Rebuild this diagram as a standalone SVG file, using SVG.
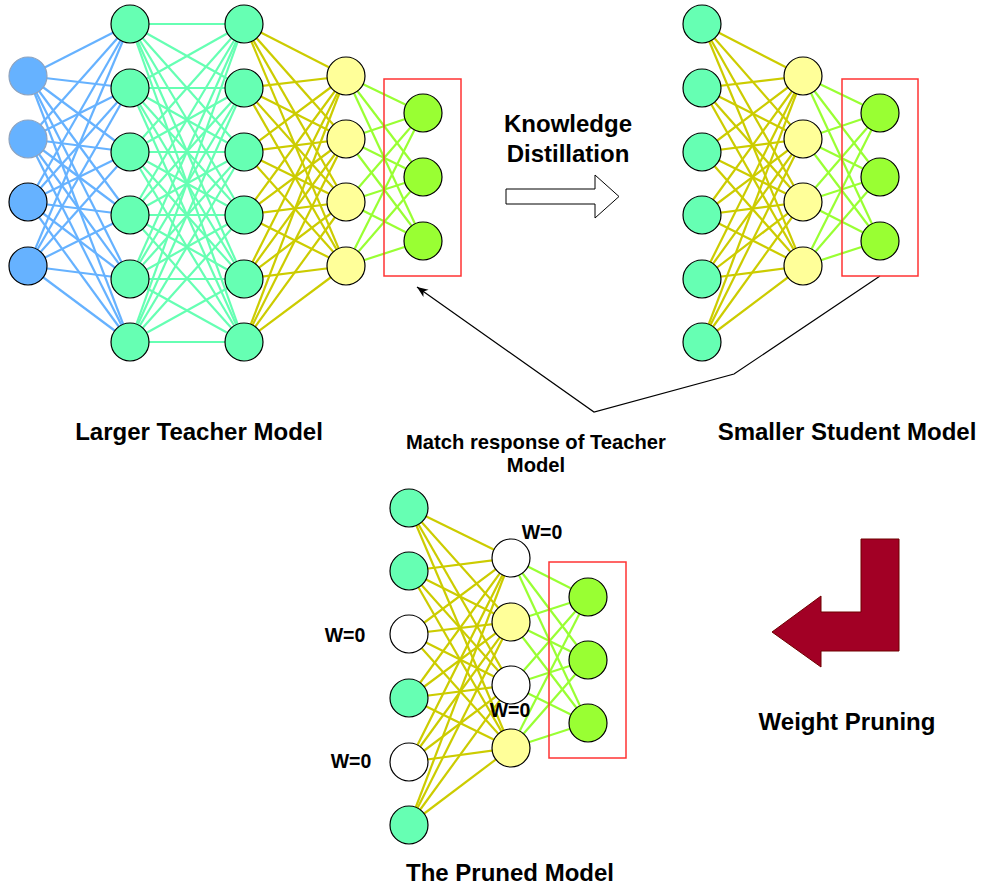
<svg xmlns="http://www.w3.org/2000/svg" width="982" height="891" viewBox="0 0 982 891">
<style>
.e1{stroke:#66B2FF;stroke-width:2.2;fill:none}
.e2{stroke:#66FFB3;stroke-width:2.2;fill:none}
.e3{stroke:#CCCC00;stroke-width:2.2;fill:none}
.e4{stroke:#99FF33;stroke-width:2.2;fill:none}
circle{stroke:#000;stroke-width:1.2}
.blue{fill:#66B2FF}
.blueg{fill:#66B2FF;stroke:#8FA3BE}
.green{fill:#66FFB3}
.yellow{fill:#FFFF99}
.lime{fill:#99FF33}
.white{fill:#FFFFFF}
.box{fill:none;stroke:#FF3333;stroke-width:1.5}
text{font-family:"Liberation Sans",Arial,sans-serif;font-weight:bold;fill:#000;text-anchor:middle}
.big{font-size:24px}
.small{font-size:19.5px}
.match{font-size:20.2px}
</style>
<defs>
<marker id="ah" markerWidth="12" markerHeight="12" refX="11" refY="6" orient="auto" markerUnits="userSpaceOnUse">
<path d="M0,1.5 L11,6 L0,10.5 L3,6 Z" fill="#000"/>
</marker>
</defs>
<g id="connectors">
<g id="teacher-blue">
<path class="e1" d="M28 76L130 24"/><path class="e1" d="M28 76L130 88"/><path class="e1" d="M28 76L130 152"/><path class="e1" d="M28 76L130 215"/><path class="e1" d="M28 76L130 279"/><path class="e1" d="M28 76L130 342"/>
<path class="e1" d="M28 139L130 24"/><path class="e1" d="M28 139L130 88"/><path class="e1" d="M28 139L130 152"/><path class="e1" d="M28 139L130 215"/><path class="e1" d="M28 139L130 279"/><path class="e1" d="M28 139L130 342"/>
<path class="e1" d="M28 202L130 24"/><path class="e1" d="M28 202L130 88"/><path class="e1" d="M28 202L130 152"/><path class="e1" d="M28 202L130 215"/><path class="e1" d="M28 202L130 279"/><path class="e1" d="M28 202L130 342"/>
<path class="e1" d="M28 266L130 24"/><path class="e1" d="M28 266L130 88"/><path class="e1" d="M28 266L130 152"/><path class="e1" d="M28 266L130 215"/><path class="e1" d="M28 266L130 279"/><path class="e1" d="M28 266L130 342"/>
</g>
<g id="teacher-green">
<path class="e2" d="M130 24L244 24"/><path class="e2" d="M130 24L244 88"/><path class="e2" d="M130 24L244 152"/><path class="e2" d="M130 24L244 215"/><path class="e2" d="M130 24L244 279"/><path class="e2" d="M130 24L244 342"/>
<path class="e2" d="M130 88L244 24"/><path class="e2" d="M130 88L244 88"/><path class="e2" d="M130 88L244 152"/><path class="e2" d="M130 88L244 215"/><path class="e2" d="M130 88L244 279"/><path class="e2" d="M130 88L244 342"/>
<path class="e2" d="M130 152L244 24"/><path class="e2" d="M130 152L244 88"/><path class="e2" d="M130 152L244 152"/><path class="e2" d="M130 152L244 215"/><path class="e2" d="M130 152L244 279"/><path class="e2" d="M130 152L244 342"/>
<path class="e2" d="M130 215L244 24"/><path class="e2" d="M130 215L244 88"/><path class="e2" d="M130 215L244 152"/><path class="e2" d="M130 215L244 215"/><path class="e2" d="M130 215L244 279"/><path class="e2" d="M130 215L244 342"/>
<path class="e2" d="M130 279L244 24"/><path class="e2" d="M130 279L244 88"/><path class="e2" d="M130 279L244 152"/><path class="e2" d="M130 279L244 215"/><path class="e2" d="M130 279L244 279"/><path class="e2" d="M130 279L244 342"/>
<path class="e2" d="M130 342L244 24"/><path class="e2" d="M130 342L244 88"/><path class="e2" d="M130 342L244 152"/><path class="e2" d="M130 342L244 215"/><path class="e2" d="M130 342L244 279"/><path class="e2" d="M130 342L244 342"/>
</g>
<g id="teacher-yellow">
<path class="e3" d="M244 24L346 76"/><path class="e3" d="M244 24L346 139"/><path class="e3" d="M244 24L346 202"/><path class="e3" d="M244 24L346 266"/>
<path class="e3" d="M244 88L346 76"/><path class="e3" d="M244 88L346 139"/><path class="e3" d="M244 88L346 202"/><path class="e3" d="M244 88L346 266"/>
<path class="e3" d="M244 152L346 76"/><path class="e3" d="M244 152L346 139"/><path class="e3" d="M244 152L346 202"/><path class="e3" d="M244 152L346 266"/>
<path class="e3" d="M244 215L346 76"/><path class="e3" d="M244 215L346 139"/><path class="e3" d="M244 215L346 202"/><path class="e3" d="M244 215L346 266"/>
<path class="e3" d="M244 279L346 76"/><path class="e3" d="M244 279L346 139"/><path class="e3" d="M244 279L346 202"/><path class="e3" d="M244 279L346 266"/>
<path class="e3" d="M244 342L346 76"/><path class="e3" d="M244 342L346 139"/><path class="e3" d="M244 342L346 202"/><path class="e3" d="M244 342L346 266"/>
</g>
<g id="teacher-lime">
<path class="e4" d="M346 76L423 113"/><path class="e4" d="M346 76L423 177"/><path class="e4" d="M346 76L423 241"/>
<path class="e4" d="M346 139L423 113"/><path class="e4" d="M346 139L423 177"/><path class="e4" d="M346 139L423 241"/>
<path class="e4" d="M346 202L423 113"/><path class="e4" d="M346 202L423 177"/><path class="e4" d="M346 202L423 241"/>
<path class="e4" d="M346 266L423 113"/><path class="e4" d="M346 266L423 177"/><path class="e4" d="M346 266L423 241"/>
</g>
<g id="student-yellow">
<path class="e3" d="M702 24L803 76"/><path class="e3" d="M702 24L803 139"/><path class="e3" d="M702 24L803 202"/><path class="e3" d="M702 24L803 266"/>
<path class="e3" d="M702 88L803 76"/><path class="e3" d="M702 88L803 139"/><path class="e3" d="M702 88L803 202"/><path class="e3" d="M702 88L803 266"/>
<path class="e3" d="M702 152L803 76"/><path class="e3" d="M702 152L803 139"/><path class="e3" d="M702 152L803 202"/><path class="e3" d="M702 152L803 266"/>
<path class="e3" d="M702 215L803 76"/><path class="e3" d="M702 215L803 139"/><path class="e3" d="M702 215L803 202"/><path class="e3" d="M702 215L803 266"/>
<path class="e3" d="M702 279L803 76"/><path class="e3" d="M702 279L803 139"/><path class="e3" d="M702 279L803 202"/><path class="e3" d="M702 279L803 266"/>
<path class="e3" d="M702 342L803 76"/><path class="e3" d="M702 342L803 139"/><path class="e3" d="M702 342L803 202"/><path class="e3" d="M702 342L803 266"/>
</g>
<g id="student-lime">
<path class="e4" d="M803 76L880 113"/><path class="e4" d="M803 76L880 177"/><path class="e4" d="M803 76L880 241"/>
<path class="e4" d="M803 139L880 113"/><path class="e4" d="M803 139L880 177"/><path class="e4" d="M803 139L880 241"/>
<path class="e4" d="M803 202L880 113"/><path class="e4" d="M803 202L880 177"/><path class="e4" d="M803 202L880 241"/>
<path class="e4" d="M803 266L880 113"/><path class="e4" d="M803 266L880 177"/><path class="e4" d="M803 266L880 241"/>
</g>
<g id="pruned-yellow">
<path class="e3" d="M409 508L511 558"/><path class="e3" d="M409 508L511 622"/><path class="e3" d="M409 508L511 685"/><path class="e3" d="M409 508L511 748"/>
<path class="e3" d="M409 571L511 558"/><path class="e3" d="M409 571L511 622"/><path class="e3" d="M409 571L511 685"/><path class="e3" d="M409 571L511 748"/>
<path class="e3" d="M409 634L511 558"/><path class="e3" d="M409 634L511 622"/><path class="e3" d="M409 634L511 685"/><path class="e3" d="M409 634L511 748"/>
<path class="e3" d="M409 698L511 558"/><path class="e3" d="M409 698L511 622"/><path class="e3" d="M409 698L511 685"/><path class="e3" d="M409 698L511 748"/>
<path class="e3" d="M409 762L511 558"/><path class="e3" d="M409 762L511 622"/><path class="e3" d="M409 762L511 685"/><path class="e3" d="M409 762L511 748"/>
<path class="e3" d="M409 825L511 558"/><path class="e3" d="M409 825L511 622"/><path class="e3" d="M409 825L511 685"/><path class="e3" d="M409 825L511 748"/>
</g>
<g id="pruned-lime">
<path class="e4" d="M511 558L588 597"/><path class="e4" d="M511 558L588 660"/><path class="e4" d="M511 558L588 723"/>
<path class="e4" d="M511 622L588 597"/><path class="e4" d="M511 622L588 660"/><path class="e4" d="M511 622L588 723"/>
<path class="e4" d="M511 685L588 597"/><path class="e4" d="M511 685L588 660"/><path class="e4" d="M511 685L588 723"/>
<path class="e4" d="M511 748L588 597"/><path class="e4" d="M511 748L588 660"/><path class="e4" d="M511 748L588 723"/>
</g>
<polyline id="match-connector" points="880,276 734,374 594,412 417,287" fill="none" stroke="#000" stroke-width="1.2" marker-end="url(#ah)"/>
</g>

<g id="teacher-output-box"><rect class="box" x="384" y="79" width="77" height="197"/></g>
<g id="student-output-box"><rect class="box" x="842" y="79" width="76" height="197"/></g>
<g id="pruned-output-box"><rect class="box" x="549" y="562" width="77" height="196"/></g>

<g id="t-in-1"><circle class="blueg" cx="28" cy="76" r="19"/></g>
<g id="t-in-2"><circle class="blueg" cx="28" cy="139" r="19"/></g>
<g id="t-in-3"><circle class="blue" cx="28" cy="202" r="19"/></g>
<g id="t-in-4"><circle class="blue" cx="28" cy="266" r="19"/></g>
<g id="t-h1-1"><circle class="green" cx="130" cy="24" r="19"/></g>
<g id="t-h1-2"><circle class="green" cx="130" cy="88" r="19"/></g>
<g id="t-h1-3"><circle class="green" cx="130" cy="152" r="19"/></g>
<g id="t-h1-4"><circle class="green" cx="130" cy="215" r="19"/></g>
<g id="t-h1-5"><circle class="green" cx="130" cy="279" r="19"/></g>
<g id="t-h1-6"><circle class="green" cx="130" cy="342" r="19"/></g>
<g id="t-h2-1"><circle class="green" cx="244" cy="24" r="19"/></g>
<g id="t-h2-2"><circle class="green" cx="244" cy="88" r="19"/></g>
<g id="t-h2-3"><circle class="green" cx="244" cy="152" r="19"/></g>
<g id="t-h2-4"><circle class="green" cx="244" cy="215" r="19"/></g>
<g id="t-h2-5"><circle class="green" cx="244" cy="279" r="19"/></g>
<g id="t-h2-6"><circle class="green" cx="244" cy="342" r="19"/></g>
<g id="t-h3-1"><circle class="yellow" cx="346" cy="76" r="19"/></g>
<g id="t-h3-2"><circle class="yellow" cx="346" cy="139" r="19"/></g>
<g id="t-h3-3"><circle class="yellow" cx="346" cy="202" r="19"/></g>
<g id="t-h3-4"><circle class="yellow" cx="346" cy="266" r="19"/></g>
<g id="t-out-1"><circle class="lime" cx="423" cy="113" r="19"/></g>
<g id="t-out-2"><circle class="lime" cx="423" cy="177" r="19"/></g>
<g id="t-out-3"><circle class="lime" cx="423" cy="241" r="19"/></g>

<g id="s-h1-1"><circle class="green" cx="702" cy="24" r="19"/></g>
<g id="s-h1-2"><circle class="green" cx="702" cy="88" r="19"/></g>
<g id="s-h1-3"><circle class="green" cx="702" cy="152" r="19"/></g>
<g id="s-h1-4"><circle class="green" cx="702" cy="215" r="19"/></g>
<g id="s-h1-5"><circle class="green" cx="702" cy="279" r="19"/></g>
<g id="s-h1-6"><circle class="green" cx="702" cy="342" r="19"/></g>
<g id="s-h2-1"><circle class="yellow" cx="803" cy="76" r="19"/></g>
<g id="s-h2-2"><circle class="yellow" cx="803" cy="139" r="19"/></g>
<g id="s-h2-3"><circle class="yellow" cx="803" cy="202" r="19"/></g>
<g id="s-h2-4"><circle class="yellow" cx="803" cy="266" r="19"/></g>
<g id="s-out-1"><circle class="lime" cx="880" cy="113" r="19"/></g>
<g id="s-out-2"><circle class="lime" cx="880" cy="177" r="19"/></g>
<g id="s-out-3"><circle class="lime" cx="880" cy="241" r="19"/></g>

<g id="p-h1-1"><circle class="green" cx="409" cy="508" r="19"/></g>
<g id="p-h1-2"><circle class="green" cx="409" cy="571" r="19"/></g>
<g id="p-h1-3"><circle class="white" cx="409" cy="634" r="19"/></g>
<g id="p-h1-4"><circle class="green" cx="409" cy="698" r="19"/></g>
<g id="p-h1-5"><circle class="white" cx="409" cy="762" r="19"/></g>
<g id="p-h1-6"><circle class="green" cx="409" cy="825" r="19"/></g>
<g id="p-h2-1"><circle class="white" cx="511" cy="558" r="19"/></g>
<g id="p-h2-2"><circle class="yellow" cx="511" cy="622" r="19"/></g>
<g id="p-h2-3"><circle class="white" cx="511" cy="685" r="19"/></g>
<g id="p-h2-4"><circle class="yellow" cx="511" cy="748" r="19"/></g>
<g id="p-out-1"><circle class="lime" cx="588" cy="597" r="19"/></g>
<g id="p-out-2"><circle class="lime" cx="588" cy="660" r="19"/></g>
<g id="p-out-3"><circle class="lime" cx="588" cy="723" r="19"/></g>

<g id="distill-arrow"><path d="M506 189 L595 189 L595 175 L619 196.5 L595 218 L595 204 L506 204 Z" fill="#FFFFFF" stroke="#000" stroke-width="1"/></g>
<g id="pruning-arrow"><path d="M861 539 L899 539 L899 651 L821 651 L821 667 L772 632 L821 596 L821 612 L861 612 Z" fill="#A20025" stroke="#6F0000" stroke-width="1"/></g>

<g id="labels">
<text class="big" x="199" y="440">Larger Teacher Model</text>
<text class="big" x="847" y="440">Smaller Student Model</text>
<text class="big" x="568" y="132">Knowledge</text>
<text class="big" x="568" y="162">Distillation</text>
<text class="match" x="536" y="449">Match response of Teacher</text>
<text class="match" x="536" y="472">Model</text>
<text class="big" x="847" y="730">Weight Pruning</text>
<text class="big" x="510" y="881">The Pruned Model</text>
<text class="small" x="542" y="539">W=0</text>
<text class="small" x="345" y="642">W=0</text>
<text class="small" x="351" y="768">W=0</text>
<text class="small" x="510" y="717">W=0</text>
</g>
</svg>
